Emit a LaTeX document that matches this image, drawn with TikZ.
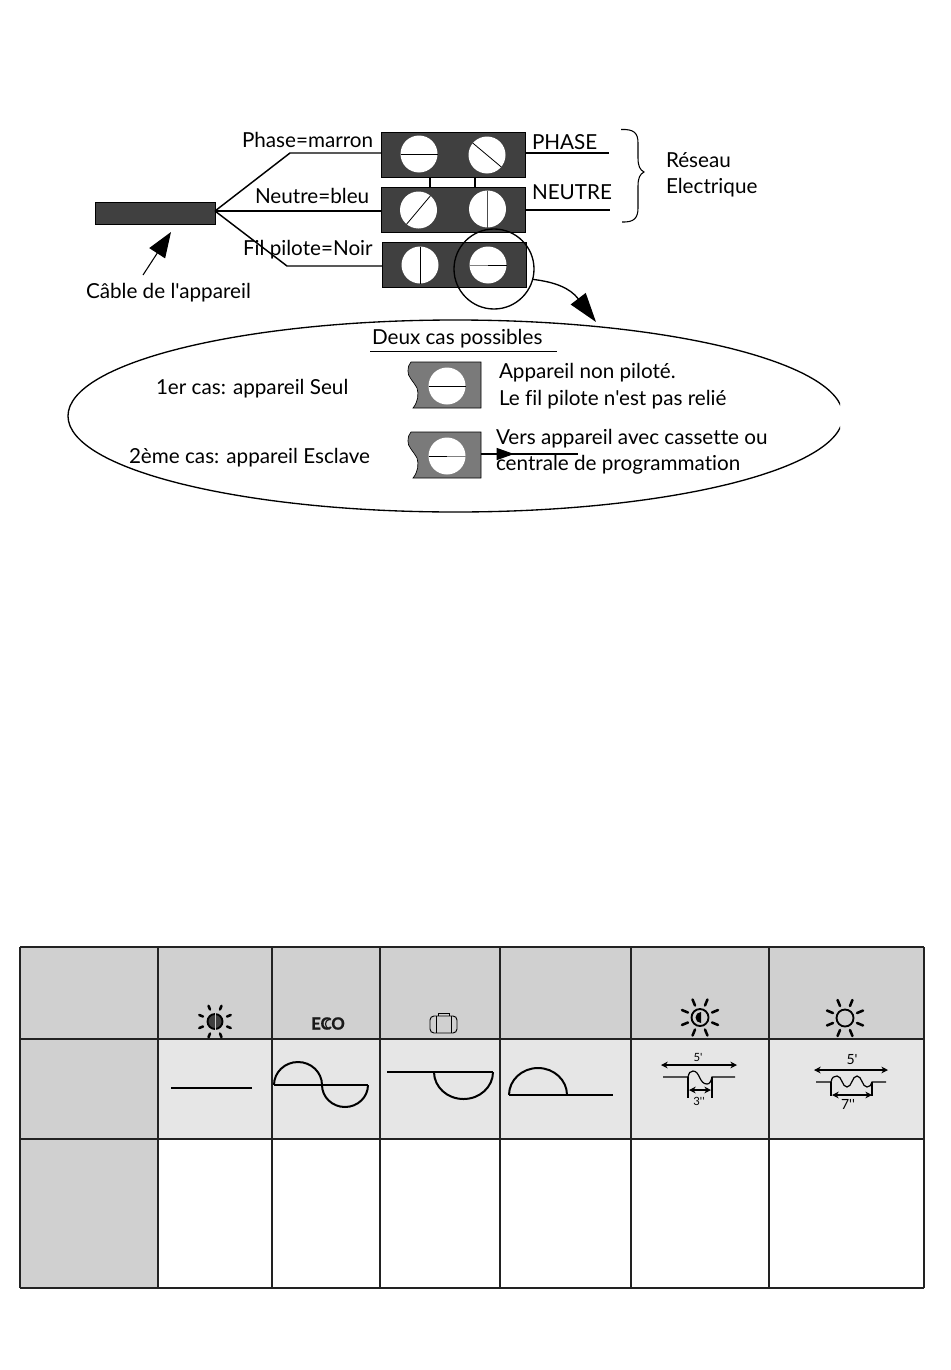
\documentclass[tikz,border=0pt]{standalone}
\usepackage{fontspec}
\setmainfont{Lato}[Ligatures={NoCommon,TeXOff}]
\usetikzlibrary{calc,shapes.geometric,arrows.meta}
\definecolor{blk}{HTML}{404040}
\definecolor{mini}{HTML}{7A7A7A}
\definecolor{hdr}{HTML}{D0D0D0}
\definecolor{lite}{HTML}{E6E6E6}
\definecolor{grid}{HTML}{222222}
\tikzset{
 lbl/.style={anchor=base west,inner sep=0pt,outer sep=0pt,font=\fontsize{15.5}{18}\selectfont},
 tiny/.style={inner sep=0pt,outer sep=0pt,font=\fontsize{8.5}{10}\selectfont},
 small/.style={inner sep=0pt,outer sep=0pt,font=\fontsize{10.5}{12}\selectfont},
 block/.style={draw=black,line width=.6pt,fill=blk,rectangle,inner sep=0pt,outer sep=0pt,minimum width=144*0.75pt,minimum height=45*0.75pt},
 screw/.style={circle,fill=white,inner sep=0pt,outer sep=0pt,minimum size=37*0.75pt},
 slot/.style={line width=.6pt},
 wire/.style={line width=1.1pt,black},
 wave/.style={line width=1.5pt,black},
 fine/.style={line width=.9pt,black},
 ray/.style={line width=1.9pt,line cap=round,black},
 dim/.style={line width=.8pt,{Stealth[length=5pt,width=5pt]}-{Stealth[length=5pt,width=5pt]}},
 gridline/.style={line width=1.8pt,grid},
}
\begin{document}
\begin{tikzpicture}[x=0.75pt,y=-0.75pt]
\useasboundingbox (0,0) rectangle (950,1370);
% ---- cable
\node[rectangle,draw=black,line width=.5pt,fill=blk,inner sep=0pt,outer sep=0pt,minimum width=120*0.75pt,minimum height=22*0.75pt] (cable) at (155,213) {};
\coordinate (hub) at (215,211);
\coordinate (b1) at (290,153);
\coordinate (b3) at (287,266);
% ---- terminal blocks
\node[block] (tb1) at (453,155) {};
\node[block] (tb2) at (453,209.5) {};
\node[block] (tb3) at (454,264.5) {};
\node[screw] (s1) at (419,154) {};
\node[screw] (s2) at (487,155) {};
\node[screw] (s3) at (418.5,210) {};
\node[screw] (s4) at (487.5,209) {};
\node[screw] (s5) at (420,265) {};
\node[screw] (s6) at (488,265) {};
\draw[slot] (s1.west) -- (s1.east);
\draw[slot] (s2.140) -- (s2.-40);
\draw[slot] (s3.-130) -- (s3.50);
\draw[slot,black!70] (s4.north) -- (s4.south);
\draw[slot] (s5.north) -- (s5.south);
\draw[slot,black!50] (s6.west) -- (s6.center);
\draw[slot] (s6.center) -- (s6.east);
\coordinate (j1t) at (430,177); \coordinate (j1b) at (430,187);
\coordinate (j2t) at (475,177); \coordinate (j2b) at (475,187);
\draw[wire] (j1t) -- (j1b);
\draw[wire] (j2t) -- (j2b);
% ---- wires
\draw[wire] (hub) -- (b1) -- (tb1.west |- b1);
\draw[wire] (hub) -- (tb2.west |- hub);
\draw[wire] (hub) -- (b3) -- (tb3.west |- b3);
\coordinate (ph) at (609,153);
\coordinate (ne) at (610,210);
\draw[wire] (tb1.east |- ph) -- (ph);
\draw[wire] (tb2.east |- ne) -- (ne);
% ---- labels
\node[lbl] (t1) at (242,147) {Phase=marron};
\node[lbl] (t2) at (255,203) {Neutre=bleu};
\node[lbl] (t3) at (243,255) {Fil pilote=Noir};
\node[lbl] (t4) at (86,298) {Câble de l'appareil};
\node[lbl] (t5) at (532,149) {PHASE};
\node[lbl] (t6) at (532,199) {NEUTRE};
\node[lbl] (t7) at (666,167) {Réseau};
\node[lbl] (t8) at (666,193) {Electrique};
% ---- brace
\draw[line width=.8pt] (621,129.5) .. controls (634,129) and (638,133) .. (638,143)
 -- (638,158) .. controls (638,166) and (640,170) .. (644,172)
 .. controls (640,174) and (638,178) .. (638,186) -- (638,208)
 .. controls (638,218) and (634,222.5) .. (622,222);
% ---- cable arrow
\coordinate (ca) at (143,275);
\coordinate (cb) at (171,232);
\draw[line width=.8pt,-{Triangle[length=19pt,width=14pt]}] (ca) -- (cb);
% ---- loupe and oval
\node[circle,draw=black,line width=1pt,inner sep=0pt,minimum size=80*0.75pt,outer sep=0pt] (loupe) at (494,269) {};
\begin{scope}
\clip (0,0) rectangle (840,1370);
\node[ellipse,draw=black,line width=1pt,inner sep=0pt,outer sep=0pt,minimum width=775*0.75pt,minimum height=192*0.75pt] (oval) at (455.5,416) {};
\end{scope}
\coordinate (ot) at (596,322);
\draw[line width=1pt,-{Triangle[length=22pt,width=14pt]}] (loupe.-15) .. controls (555,282) and (570,288) .. (ot);
% ---- oval content
\node[lbl] (d0) at (372,344) {Deux cas possibles};
\coordinate (u1) at (370,351); \coordinate (u2) at (557,351);
\draw[line width=.7pt] (u1) -- (u2);
\node[lbl] (d1) at (156,394) {1er cas: appareil Seul};
\node[lbl] (d2) at (129,463) {2ème cas: appareil Esclave};
\node[lbl] (d3) at (499,378) {Appareil non piloté.};
\node[lbl] (d4) at (499,405) {Le fil pilote n'est pas relié};
\node[lbl] (d5) at (496,444) {Vers appareil avec cassette ou};
\node[lbl] (d6) at (496,470) {centrale de programmation};
% mini blocks
\foreach \yy in {362,432}{
 \fill[mini,draw=black,line width=.5pt] (411,\yy) -- (481,\yy) -- (481,\yy+46) -- (413,\yy+46)
  .. controls (418,\yy+40) and (419,\yy+32) .. (417,\yy+26)
  .. controls (414,\yy+20) and (407,\yy+14) .. (408,\yy+9)
  .. controls (408,\yy+5) and (409,\yy+2) .. (411,\yy) -- cycle;
}
\node[screw] (m1) at (447,386) {};
\node[screw] (m2) at (447,456) {};
\draw[slot] (m1.west) -- (m1.east);
\draw[slot] (m2.west) -- (m2.center);
\draw[slot,black!50] (m2.center) -- (m2.east);
\coordinate (m2r) at (481,454);
\coordinate (m2e) at (578,454);
\draw[wire] (m2r) -- (m2e);
\coordinate (hb) at (496,454);
\coordinate (ht) at (514,454);
\draw[-{Triangle[length=13pt,width=9pt]},line width=.8pt] (hb) -- (ht);
% ---- table
\fill[hdr] (20,947) rectangle (924,1039);
\fill[lite] (158,1039) rectangle (924,1139);
\fill[hdr] (20,1039) rectangle (158,1288);
\foreach \xx in {20,158,272,380,500,631,769,924}{\draw[gridline] (\xx,947) -- (\xx,1288);}
\foreach \yy in {947,1039,1139,1288}{\draw[gridline] (20,\yy) -- (924,\yy);}
% icons: suns
\foreach \cx/\cy/\rr in {215/1021.5/17,700/1017.5/19.5,845/1018/19.5}{
 \foreach \aa in {22.5,67.5,...,360}{
  \draw[ray] ($(\cx,\cy)+(\aa:13)$) -- ($(\cx,\cy)+(\aa:\rr)$);
 }
}
\node[circle,draw=black,line width=1.4pt,fill=blk,inner sep=0pt,minimum size=15*0.75pt] (sun1) at (215,1021.5) {};
\draw[line width=.5pt,hdr] (sun1.north) -- (sun1.south);
\node[circle,draw=black,line width=1.4pt,fill=hdr,inner sep=0pt,minimum size=17*0.75pt] (sun3) at (700,1017.5) {};
\fill[black] (701,1012) arc (-90:-270:5.5) -- cycle;
\node[circle,draw=black,line width=1.4pt,fill=hdr,inner sep=0pt,minimum size=17*0.75pt] (sun4) at (845,1018) {};
% eco
\node[inner sep=0pt,font=\fontsize{12.5}{15}\bfseries\selectfont\addfontfeature{FakeBold=1.2},text=black!90] (eco) at (328,1023.5) {ECO};
\draw[line width=.9pt,black!90] (329.5,1019) .. controls (326.5,1020) and (325.5,1022) .. (325.5,1024) .. controls (325.5,1026) and (326.5,1028) .. (329.5,1029);
% suitcase
\draw[line width=.7pt,rounded corners=3pt] (430,1016) rectangle (457,1033);
\draw[line width=.7pt] (436,1016) -- (436,1033) (451,1016) -- (451,1033);
\draw[line width=.7pt] (438,1016) -- (438,1013) -- (449,1013) -- (449,1016);
% waves
\draw[wave] (171,1087.5) -- (252,1087.5);
\draw[wave] (274,1085) -- (368,1085);
\draw[wave] (274,1085) arc (180:360:24 and 23) arc (180:0:23 and 22);
\draw[wave] (387,1072) -- (493,1072);
\draw[wave] (434,1072) arc (180:0:29.5 and 27);
\draw[wave] (509,1095) -- (613,1095);
\draw[wave] (509,1095) arc (180:360:29 and 27);
% signal 5
\draw[dim] (661,1065) -- (737,1065);
\node[tiny] (q1) at (698,1057) {5'};
\draw[fine] (663,1077) -- (688,1077) .. controls (689,1073) and (690,1071) .. (693,1071)
 .. controls (700,1071) and (699,1084) .. (707,1084)
 .. controls (710,1084) and (711,1081) .. (712,1077) -- (735,1077);
\draw[fine] (688,1077) -- (688,1098) (712,1077) -- (712,1098);
\draw[dim] (689,1090) -- (711,1090);
\node[tiny] (q2) at (699,1101) {3''};
% signal 6
\draw[dim] (814,1070) -- (888,1070);
\node[small] (q3) at (852,1060) {5'};
\draw[fine] (816,1082) -- (831,1082) .. controls (832,1077) and (834,1076) .. (837,1076)
 .. controls (842,1076) and (842,1087) .. (847,1087)
 .. controls (852,1087) and (852,1076) .. (857,1076)
 .. controls (862,1076) and (862,1087) .. (867,1087)
 .. controls (870,1087) and (871,1085) .. (872,1082) -- (886,1082);
\draw[fine] (831,1082) -- (831,1096) (872,1082) -- (872,1096);
\draw[dim] (832,1095) -- (872,1095);
\node[small] (q4) at (848,1104) {7''};
\end{tikzpicture}
\end{document}
